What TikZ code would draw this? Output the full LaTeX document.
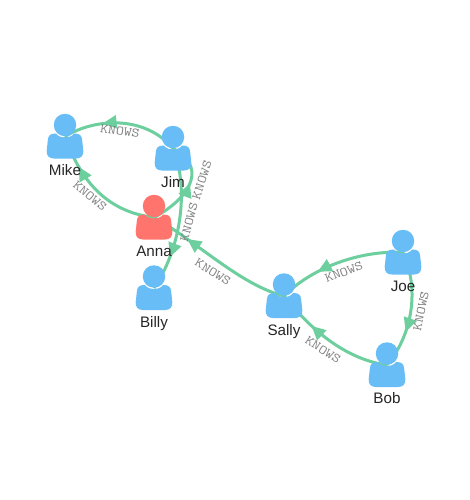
\documentclass[tikz,border=0pt]{standalone}
\usepackage{graphicx}
\usepackage{fontspec}
\setmainfont{Liberation Sans}
\usetikzlibrary{arrows.meta,decorations.markings}
\definecolor{edgegreen}{HTML}{6DCE9E}
\definecolor{personblue}{HTML}{68BDF6}
\definecolor{personred}{HTML}{FF756E}
\tikzset{
  knows/.style={edgegreen,line width=3pt,postaction={decorate},
    decoration={markings,mark=at position #1 with {\arrow[edgegreen]{Triangle[length=14pt,width=13pt]}}}},
  knowslabel/.style={text=gray,font=\fontsize{13}{14}\ttfamily,inner sep=0pt},
  personhead/.style={circle,minimum size=22.5pt,inner sep=0pt},
  personlabel/.style={text=black!85,font=\fontsize{15.2}{17}\selectfont,inner sep=0pt,anchor=base}
}
\newcommand{\knowstext}{\scalebox{1.18}[1]{KNOWS}}
\newcommand{\personicon}[4]{%
  \begin{scope}[shift={(#2,#3)}]
  \fill[#4] (-9.2,-3) .. controls (-6,0.6) and (-3,1) .. (0,1)
    .. controls (3,1) and (6,0.6) .. (9.2,-3)
    .. controls (15,-3) and (16.8,-1) .. (17.2,4)
    -- (18.3,14) .. controls (18.8,19) and (16,22) .. (11,22)
    -- (-11,22) .. controls (-16,22) and (-18.8,19) .. (-18.3,14)
    -- (-17.2,4) .. controls (-16.8,-1) and (-15,-3) .. (-9.2,-3) -- cycle;
  \node[personhead,fill=#4] (#1) at (0,-11.5) {};
  \end{scope}
}
\begin{document}
\begin{tikzpicture}[x=1pt,y=-1pt]
\useasboundingbox (0,0) rectangle (469,500);
\fill[white] (0,0) rectangle (469,500);
\coordinate (mike) at (65,136.5);
\coordinate (jim) at (173,148.5);
\coordinate (anna) at (154,217.5);
\coordinate (billy) at (154,288);
\coordinate (sally) at (284,296);
\coordinate (joe) at (403,252.5);
\coordinate (bob) at (387,365);
\draw[knows=0.66] (jim) .. controls (145,115) and (95,118) .. (mike);
\draw[knows=0.74] (anna) .. controls (110,212) and (82,185) .. (mike);
\draw[knows=0.54] (anna) .. controls (195,195) and (205,165) .. (jim);
\draw[knows=0.76] (jim) .. controls (190,190) and (180,250) .. (billy);
\draw[knows=0.74] (sally) .. controls (240,285) and (195,240) .. (anna);
\draw[knows=0.68] (joe) .. controls (365,250) and (315,265) .. (sally);
\draw[knows=0.68] (joe) .. controls (420,290) and (412,335) .. (bob);
\draw[knows=0.68] (bob) .. controls (350,360) and (315,335) .. (sally);
\node[knowslabel,rotate=-8] (l1) at (120,131) {\knowstext};
\node[knowslabel,rotate=-40] (l2) at (90,196) {\knowstext};
\node[knowslabel,rotate=72] (l3) at (202,180) {\knowstext};
\node[knowslabel,rotate=75] (l4) at (189,222) {\knowstext};
\node[knowslabel,rotate=-32] (l5) at (213,272) {\knowstext};
\node[knowslabel,rotate=21] (l6) at (344,272) {\knowstext};
\node[knowslabel,rotate=78] (l7) at (421,311) {\knowstext};
\node[knowslabel,rotate=-33] (l8) at (323,350) {\knowstext};
\personicon{mike-icon}{65}{136.5}{personblue}
\personicon{jim-icon}{173}{148.5}{personblue}
\personicon{anna-icon}{154}{217.5}{personred}
\personicon{billy-icon}{154}{288}{personblue}
\personicon{sally-icon}{284}{296}{personblue}
\personicon{joe-icon}{403}{252.5}{personblue}
\personicon{bob-icon}{387}{365}{personblue}
\node[personlabel] (mike-name) at (65,175) {Mike};
\node[personlabel] (jim-name) at (173,187) {Jim};
\node[personlabel] (anna-name) at (154,256) {Anna};
\node[personlabel] (billy-name) at (154,327) {Billy};
\node[personlabel] (sally-name) at (284,335) {Sally};
\node[personlabel] (joe-name) at (403,291) {Joe};
\node[personlabel] (bob-name) at (387,403) {Bob};
\end{tikzpicture}
\end{document}
